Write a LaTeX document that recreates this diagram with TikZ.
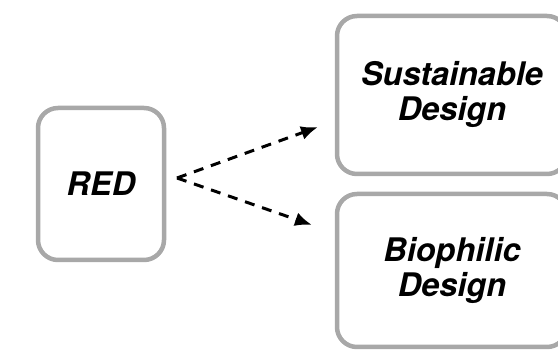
\documentclass[tikz,border=0pt]{standalone}
\usepackage{fontspec}
\setmainfont{TeX Gyre Heros}
\usetikzlibrary{positioning, arrows.meta}

\definecolor{boxgray}{HTML}{A8A8A8}
\tikzset{
  box/.style={draw=boxgray, line width=4.5pt, rounded corners=20pt, outer sep=0pt,
    inner sep=0pt, align=center, font=\fontsize{32.5}{35}\selectfont\bfseries\itshape},
  dasharrow/.style={dash pattern=on 10pt off 8pt, line width=3pt,
    -{Latex[length=17pt,width=14pt]}},
}

\begin{document}
\begin{tikzpicture}[x=1pt,y=1pt]
    \useasboundingbox (0,0) rectangle (558,350);
    \node(red)[box, minimum width=126pt, minimum height=152pt] at (101,166){RED};
    \node(sustainable)[box, minimum width=230pt, minimum height=158pt] at (452,255){Sustainable\\Design};
    \node(biophilic)[box, minimum width=230pt, minimum height=153pt, below=20pt of sustainable]{Biophilic\\Design};

    \coordinate(fork) at (177,172);
    \coordinate(upper) at (318,223);
    \coordinate(lower) at (312,125);

    \draw[dasharrow] (fork) -- (upper);
    \draw[dasharrow] (fork) -- (lower);
\end{tikzpicture}
\end{document}
